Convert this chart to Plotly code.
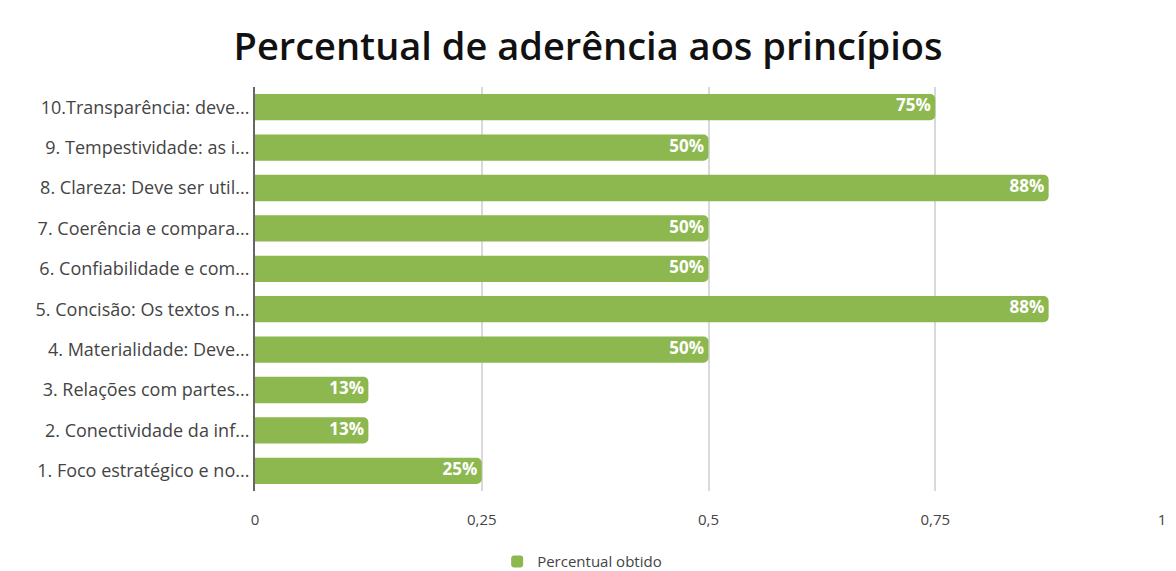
import plotly.graph_objects as go

categories = [
    "1. Foco estratégico e no...",
    "2. Conectividade da inf...",
    "3. Relações com partes...",
    "4. Materialidade: Deve...",
    "5. Concisão: Os textos n...",
    "6. Confiabilidade e com...",
    "7. Coerência e compara...",
    "8. Clareza: Deve ser util...",
    "9. Tempestividade: as i...",
    "10.Transparência: deve...",
]
values = [0.25, 0.125, 0.125, 0.5, 0.875, 0.5, 0.5, 0.875, 0.5, 0.75]
labels = ["25%", "13%", "13%", "50%", "88%", "50%", "50%", "88%", "50%", "75%"]
x_ticks = [0, 0.25, 0.5, 0.75, 1]
x_ticktext = ["0", "0,25", "0,5", "0,75", "1"]
series_name = "Percentual obtido"

fig = go.Figure()
fig.add_trace(go.Bar(
    y=categories, x=values, orientation="h", name=series_name,
    marker=dict(color="#8CB84F", line=dict(width=0)),
    width=0.65, showlegend=True, hoverinfo="x+y",
))
fig.add_trace(go.Scatter(
    y=categories, x=values, mode="text", text=labels,
    texttemplate="%{text}\u00a0", textposition="middle left",
    textfont=dict(color="white", size=17, family="Open Sans", weight="bold"),
    showlegend=False, hoverinfo="skip",
))

fig.update_layout(
    width=1176, height=571,
    margin=dict(l=255, r=10, t=87, b=80),
    paper_bgcolor="white", plot_bgcolor="white",
    barcornerradius=5,
    title=dict(text="Percentual de aderência aos princípios", x=0.5, xanchor="center",
               y=0.918, yanchor="middle",
               font=dict(family="Open Sans", size=38, color="#111111", weight=600)),
    font=dict(family="Open Sans", size=15, color="#444444"),
    xaxis=dict(range=[0, 1], tickvals=x_ticks, ticktext=x_ticktext,
               showgrid=True, gridcolor="#d9d9d9", gridwidth=2,
               zeroline=False, showline=False, ticks="",
               ticklabelstandoff=18,
               tickfont=dict(size=15, color="#444444")),
    yaxis=dict(showline=True, linecolor="#666666", linewidth=2, ticks="",
               layer="below traces", ticklabelstandoff=0,
               tickfont=dict(size=18, color="#444444")),
    legend=dict(orientation="h", x=0.267, xanchor="left",
                yref="container", y=0.045, yanchor="top",
                font=dict(size=15, color="#444444")),
)

fig.write_html("out.html")
